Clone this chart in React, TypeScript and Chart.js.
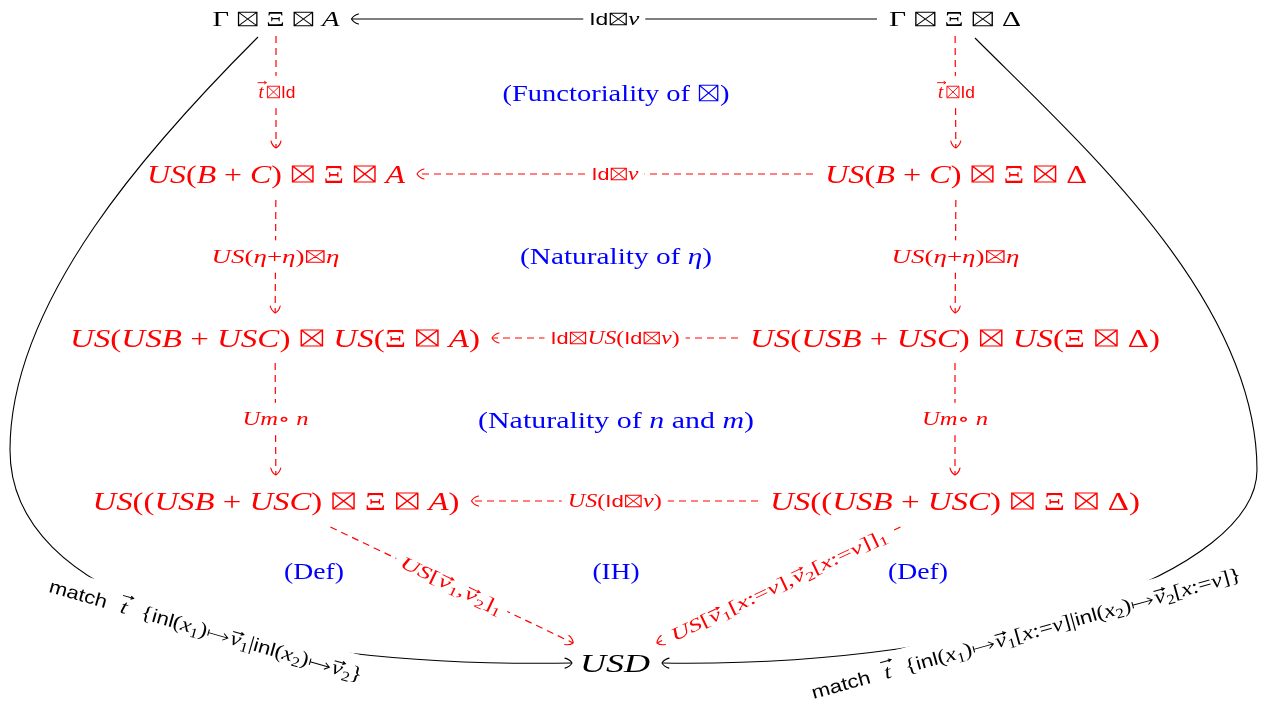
import React, { useEffect, useRef } from 'react';
import { Chart, registerables } from 'chart.js';

Chart.register(...registerables);

const W = 1269;
const H = 703;

// ---------------- data ----------------
// markup: ‹...› sans text, «...» roman text, _x subscript, ^x vector
const nodeLabels = [
  'Γ ⊠ Ξ ⊠ A',
  'Γ ⊠ Ξ ⊠ Δ',
  'US(B + C) ⊠ Ξ ⊠ A',
  'US(B + C) ⊠ Ξ ⊠ Δ',
  'US(USB + USC) ⊠ US(Ξ ⊠ A)',
  'US(USB + USC) ⊠ US(Ξ ⊠ Δ)',
  'US((USB + USC) ⊠ Ξ ⊠ A)',
  'US((USB + USC) ⊠ Ξ ⊠ Δ)',
  'USD',
];
const nodeX = [276, 955, 276, 956, 275, 955, 276, 955, 615];
const nodeY = [19, 19, 174, 174, 338, 338, 501, 501, 663];

const edgeFrom = [1, 0, 1, 3, 2, 3, 5, 4, 5, 7, 6, 7];
const edgeTo = [0, 2, 3, 2, 4, 5, 4, 6, 7, 6, 8, 8];
const edgeLabels = [
  '‹Id›⊠v',
  '^t⊠‹Id›',
  '^t⊠‹Id›',
  '‹Id›⊠v',
  'US(η+η)⊠η',
  'US(η+η)⊠η',
  '‹Id›⊠US(‹Id›⊠v)',
  'Um∘ n',
  'Um∘ n',
  'US(‹Id›⊠v)',
  'US[^v_1,^v_2]_1',
  'US[^v_1[x:=v],^v_2[x:=v]]_1',
];

const curveLabels = [
  '‹match›  ^t  {‹inl›(x_1)↦^v_1|‹inl›(x_2)↦^v_2}',
  '‹match›  ^t  {‹inl›(x_1)↦^v_1[x:=v]|‹inl›(x_2)↦^v_2[x:=v]}',
];
const leftCurve = [
  [258, 37], [152, 143], [10, 300], [10, 450], [10, 600], [250, 668], [572, 663],
];
const rightCurve = [
  [975, 38], [1081, 144], [1257, 300], [1257, 470], [1257, 570], [1000, 668], [662, 663],
];
const curveLabelX = [206, 1026];
const curveLabelY = [630, 633];
const curveLabelAngle = [16, -15.5];

const noteLabels = [
  '(«Functoriality of» ⊠)',
  '(«Naturality of» η)',
  '(«Naturality of» n «and» m)',
  '(«Def»)',
  '(«IH»)',
  '(«Def»)',
];
const noteX = [616, 616, 616, 314, 616, 918];
const noteY = [93, 256, 420, 571, 571, 571];

// ---------------- styles / layout ----------------
const RED = '#ff0000';
const BLUE = '#0000ff';
const BLACK = '#000000';
const nodeSize = [21, 21, 25, 25, 25, 25, 25, 25, 26];
const nodeWidth = [127, 132, 258, 262, 410, 410, 367, 370, 70];
const nodeHalfH = [17, 17, 26, 26, 25, 25, 26, 26, 20];
const nodeColor = [BLACK, BLACK, RED, RED, RED, RED, RED, RED, BLACK];
const NODE_GAP = 12;
const edgeColor = [BLACK, RED, RED, RED, RED, RED, RED, RED, RED, RED, RED, RED];
const edgeDashed = [false, true, true, true, true, true, true, true, true, true, true, true];
const edgeLabelWidth = [50, 39, 39, 47, 134, 134, 129, 66, 66, 94, 111, 237];
const EDGE_LABEL_SIZE = 18;
const CURVE_LABEL_SIZE = 20;
const curveLabelWidth = [325, 445];
const noteWidth = [227, 192, 276, 60, 47, 60];
const NOTE_SIZE = 24;
const DASH = [7, 5];

const SERIF = "'Liberation Serif', 'DejaVu Serif', 'DejaVu Sans', serif";
const SANS = "'Liberation Sans', 'DejaVu Sans', sans-serif";

type Kind = 'm' | 'r' | 's' | 'box' | 'mapsto';
type Seg = { ch: string; k: Kind; sub: boolean; vec: boolean };

function autoKind(c: string): Kind {
  if (c === '⊠') return 'box';
  if (c === '↦') return 'mapsto';
  return /[A-Za-z]/.test(c) || /[α-ω]/.test(c) ? 'm' : 'r';
}

function parse(src: string): Seg[] {
  const out: Seg[] = [];
  const chars = Array.from(src);
  let i = 0;
  while (i < chars.length) {
    const c = chars[i];
    if (c === '‹' || c === '«') {
      const close = c === '‹' ? '›' : '»';
      const k: Kind = c === '‹' ? 's' : 'r';
      i++;
      while (i < chars.length && chars[i] !== close) {
        out.push({ ch: chars[i], k, sub: false, vec: false });
        i++;
      }
      i++;
      continue;
    }
    if (c === '_') {
      const n = chars[i + 1];
      out.push({ ch: n, k: /[0-9]/.test(n) ? 'r' : autoKind(n), sub: true, vec: false });
      i += 2;
      continue;
    }
    if (c === '^') {
      const n = chars[i + 1];
      out.push({ ch: n, k: 'm', sub: false, vec: true });
      i += 2;
      continue;
    }
    out.push({ ch: c, k: autoKind(c), sub: false, vec: false });
    i++;
  }
  return out;
}

function fontFor(s: Seg, size: number) {
  const sz = s.sub ? size * 0.7 : size;
  if (s.k === 's') return `${(sz * 0.92).toFixed(2)}px ${SANS}`;
  if (s.k === 'm') return `italic ${sz.toFixed(2)}px ${SERIF}`;
  return `${sz.toFixed(2)}px ${SERIF}`;
}

function segWidth(ctx: CanvasRenderingContext2D, s: Seg, size: number) {
  const sz = s.sub ? size * 0.7 : size;
  if (s.k === 'box') return 0.8 * sz;
  if (s.k === 'mapsto') return 1.0 * sz;
  ctx.font = fontFor(s, size);
  const w = ctx.measureText(s.ch).width;
  return s.vec ? Math.max(w, 0.5 * sz) : w;
}

function drawRich(
  ctx: CanvasRenderingContext2D,
  src: string,
  cx: number,
  cy: number,
  size: number,
  color: string,
  targetW: number,
  angle = 0,
  bg = false,
  padX = 5,
  padY = 4
) {
  const segs = parse(src);
  const widths: number[] = segs.map((s) => segWidth(ctx, s, size));
  const raw = widths.reduce((a, b) => a + b, 0);
  const k = targetW ? Math.min(1.5, Math.max(0.65, targetW / raw)) : 1;
  const w = raw * k;
  ctx.save();
  ctx.translate(cx, cy);
  if (angle) ctx.rotate((angle * Math.PI) / 180);
  if (bg) {
    ctx.fillStyle = '#ffffff';
    ctx.fillRect(-w / 2 - padX, -0.62 * size - padY, w + 2 * padX, 1.24 * size + 2 * padY);
  }
  ctx.scale(k, 1);
  ctx.fillStyle = color;
  ctx.strokeStyle = color;
  ctx.textAlign = 'left';
  ctx.textBaseline = 'alphabetic';
  ctx.setLineDash([]);
  let x = -raw / 2;
  const base = 0.34 * size;
  segs.forEach((s, i) => {
    const sz = s.sub ? size * 0.7 : size;
    const y = base + (s.sub ? 0.2 * size : 0);
    const cw = widths[i];
    if (s.k === 'box') {
      const side = 0.64 * sz;
      const x0 = x + (cw - side) / 2;
      const y0 = y - 0.66 * sz;
      ctx.lineWidth = Math.max(0.9, sz * 0.045);
      ctx.beginPath();
      ctx.rect(x0, y0, side, side);
      ctx.moveTo(x0, y0);
      ctx.lineTo(x0 + side, y0 + side);
      ctx.moveTo(x0 + side, y0);
      ctx.lineTo(x0, y0 + side);
      ctx.stroke();
    } else if (s.k === 'mapsto') {
      const ay = y - 0.25 * sz;
      const xa = x + 0.08 * sz;
      const xb = x + 0.92 * sz;
      ctx.lineWidth = Math.max(0.8, sz * 0.045);
      ctx.beginPath();
      ctx.moveTo(xa, ay - 0.16 * sz);
      ctx.lineTo(xa, ay + 0.16 * sz);
      ctx.moveTo(xa, ay);
      ctx.lineTo(xb, ay);
      ctx.moveTo(xb - 0.2 * sz, ay - 0.17 * sz);
      ctx.quadraticCurveTo(xb - 0.05 * sz, ay - 0.04 * sz, xb, ay);
      ctx.quadraticCurveTo(xb - 0.05 * sz, ay + 0.04 * sz, xb - 0.2 * sz, ay + 0.17 * sz);
      ctx.stroke();
    } else {
      ctx.font = fontFor(s, size);
      const gw = ctx.measureText(s.ch).width;
      ctx.fillText(s.ch, x + (cw - gw) / 2, y);
    }
    if (s.vec) {
      const top = y - (s.ch === 't' ? 0.86 : 0.64) * sz;
      const x0 = x + cw * 0.12;
      const x1 = x + cw * 1.05;
      ctx.lineWidth = Math.max(0.8, sz * 0.05);
      ctx.beginPath();
      ctx.moveTo(x0, top);
      ctx.lineTo(x1, top);
      ctx.moveTo(x1 - sz * 0.12, top - sz * 0.08);
      ctx.lineTo(x1, top);
      ctx.lineTo(x1 - sz * 0.12, top + sz * 0.08);
      ctx.stroke();
    }
    x += cw;
  });
  ctx.restore();
}

function arrowHead(ctx: CanvasRenderingContext2D, tx: number, ty: number, ux: number, uy: number, color: string) {
  const L = 7;
  const Wd = 5;
  const nx = -uy;
  const ny = ux;
  ctx.save();
  ctx.setLineDash([]);
  ctx.strokeStyle = color;
  ctx.lineWidth = 1.1;
  ctx.lineCap = 'round';
  ctx.beginPath();
  for (const s of [1, -1]) {
    ctx.moveTo(tx - ux * L + nx * Wd * s, ty - uy * L + ny * Wd * s);
    ctx.quadraticCurveTo(
      tx - ux * L * 0.3 + nx * Wd * 0.75 * s,
      ty - uy * L * 0.3 + ny * Wd * 0.75 * s,
      tx,
      ty
    );
  }
  ctx.stroke();
  ctx.restore();
}

type Box = { cx: number; cy: number; hw: number; hh: number };

function clipPt(b: Box, dx: number, dy: number): [number, number] {
  const tx = Math.abs(dx) > 1e-6 ? b.hw / Math.abs(dx) : Infinity;
  const ty = Math.abs(dy) > 1e-6 ? b.hh / Math.abs(dy) : Infinity;
  const t = Math.min(tx, ty);
  return [b.cx + dx * t, b.cy + dy * t];
}

const diagramPlugin = {
  id: 'diagram',
  beforeDraw(chart: any) {
    const ctx: CanvasRenderingContext2D = chart.ctx;
    ctx.save();
    ctx.fillStyle = '#ffffff';
    ctx.fillRect(0, 0, chart.width, chart.height);
    ctx.restore();
  },
  afterDraw(chart: any) {
    const ctx: CanvasRenderingContext2D = chart.ctx;
    const xs = chart.scales.x;
    const ys = chart.scales.y;
    const P = (x: number, y: number): [number, number] => [xs.getPixelForValue(x), ys.getPixelForValue(y)];
    ctx.save();

    const boxes: Box[] = nodeLabels.map((_, i) => {
      const [cx, cy] = P(nodeX[i], nodeY[i]);
      return { cx, cy, hw: nodeWidth[i] / 2 + NODE_GAP, hh: nodeHalfH[i] };
    });

    // curves
    [leftCurve, rightCurve].forEach((pts, ci) => {
      const p = pts.map(([x, y]) => P(x, y));
      ctx.save();
      ctx.strokeStyle = BLACK;
      ctx.lineWidth = 1.1;
      ctx.setLineDash([]);
      ctx.beginPath();
      ctx.moveTo(p[0][0], p[0][1]);
      ctx.bezierCurveTo(p[1][0], p[1][1], p[2][0], p[2][1], p[3][0], p[3][1]);
      ctx.bezierCurveTo(p[4][0], p[4][1], p[5][0], p[5][1], p[6][0], p[6][1]);
      ctx.stroke();
      ctx.restore();
      const dx = p[6][0] - p[5][0];
      const dy = p[6][1] - p[5][1];
      const l = Math.hypot(dx, dy);
      arrowHead(ctx, p[6][0], p[6][1], dx / l, dy / l, BLACK);
      const [lx, ly] = P(curveLabelX[ci], curveLabelY[ci]);
      drawRich(ctx, curveLabels[ci], lx, ly, CURVE_LABEL_SIZE, BLACK, curveLabelWidth[ci], curveLabelAngle[ci], true, 6, 6);
    });

    // straight edges
    edgeFrom.forEach((f, i) => {
      const a = boxes[f];
      const b = boxes[edgeTo[i]];
      const dx = b.cx - a.cx;
      const dy = b.cy - a.cy;
      const [sx, sy] = clipPt(a, dx, dy);
      const [ex, ey] = clipPt(b, -dx, -dy);
      const len = Math.hypot(ex - sx, ey - sy);
      const ux = (ex - sx) / len;
      const uy = (ey - sy) / len;
      const col = edgeColor[i];
      ctx.save();
      ctx.strokeStyle = col;
      ctx.lineWidth = 1.2;
      ctx.setLineDash(edgeDashed[i] ? DASH : []);
      ctx.beginPath();
      ctx.moveTo(sx, sy);
      ctx.lineTo(ex, ey);
      ctx.stroke();
      ctx.restore();
      arrowHead(ctx, ex, ey, ux, uy, col);
      const mx = (sx + ex) / 2;
      const my = (sy + ey) / 2;
      let ang = 0;
      if (Math.abs(dx) > 2 && Math.abs(dy) > 2) {
        ang = (Math.atan2(ey - sy, ex - sx) * 180) / Math.PI;
        if (ang > 90) ang -= 180;
        if (ang < -90) ang += 180;
      }
      drawRich(ctx, edgeLabels[i], mx, my, EDGE_LABEL_SIZE, col, edgeLabelWidth[i], ang, true, 6, 5);
    });

    // nodes
    nodeLabels.forEach((lab, i) => {
      drawRich(ctx, lab, boxes[i].cx, boxes[i].cy, nodeSize[i], nodeColor[i], nodeWidth[i]);
    });

    // notes
    noteLabels.forEach((lab, i) => {
      const [x, y] = P(noteX[i], noteY[i]);
      drawRich(ctx, lab, x, y, NOTE_SIZE, BLUE, noteWidth[i]);
    });

    ctx.restore();
  },
};

export default function App() {
  const ref = useRef<HTMLCanvasElement>(null);
  useEffect(() => {
    document.body.style.margin = '0';
    const canvas = ref.current!;
    const chart = new Chart(canvas, {
      type: 'scatter',
      data: {
        datasets: [
          {
            data: nodeX.map((x, i) => ({ x, y: nodeY[i] })),
            pointRadius: 0,
            showLine: false,
          },
        ],
      },
      options: {
        responsive: false,
        animation: false,
        events: [],
        layout: { padding: 0 },
        plugins: { legend: { display: false }, tooltip: { enabled: false } },
        scales: {
          x: { type: 'linear', min: 0, max: W, display: false },
          y: { type: 'linear', min: 0, max: H, reverse: true, display: false },
        },
      },
      plugins: [diagramPlugin],
    } as any);
    return () => chart.destroy();
  }, []);
  return (
    <div style={{ position: 'absolute', left: 0, top: 0, width: W, height: H, background: '#fff' }}>
      <canvas ref={ref} width={W} height={H} style={{ display: 'block', width: W, height: H }} />
    </div>
  );
}
